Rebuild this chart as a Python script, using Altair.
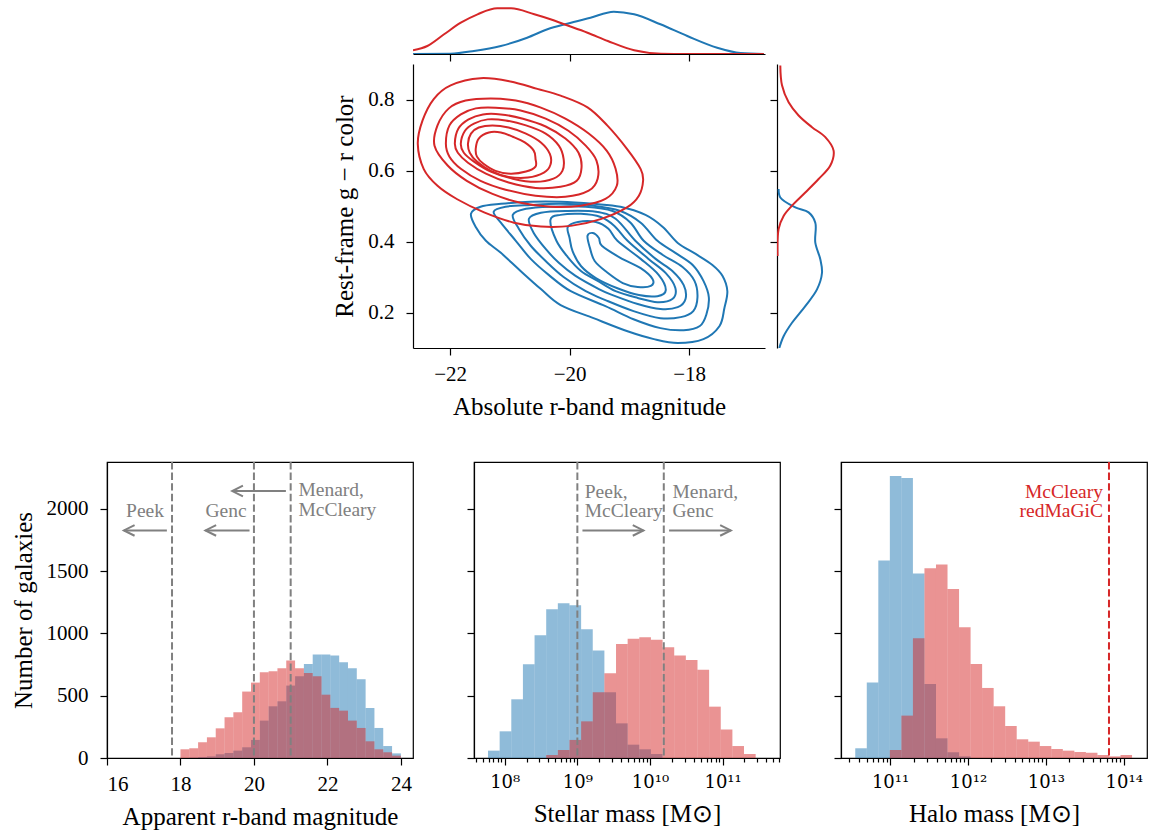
import altair as alt
import numpy as np
import pandas as pd

RED = "#d62728"
BLUE = "#1f77b4"
GRAY = "#808080"
FONT = "Liberation Serif"
SUPFONT = "DejaVu Serif"

# ---------------- joint plot: KDE contour lines ----------------
# (absolute r-band magnitude, rest-frame g-r colour), outermost level first
red_contours = [
    [(-22.54, 0.675), (-22.46, 0.741), (-22.27, 0.802), (-21.99, 0.840), (-21.49, 0.860), (-20.99, 0.851),
     (-20.54, 0.830), (-20.15, 0.811), (-19.70, 0.778), (-19.37, 0.727), (-19.04, 0.661), (-18.81, 0.604),
     (-18.77, 0.571), (-18.84, 0.529), (-19.04, 0.496), (-19.48, 0.463), (-19.98, 0.444), (-20.48, 0.442),
     (-20.93, 0.453), (-21.43, 0.482), (-21.88, 0.519), (-22.21, 0.557), (-22.44, 0.604)],
    [(-22.26, 0.670), (-22.21, 0.727), (-22.02, 0.775), (-21.74, 0.797), (-21.32, 0.803), (-20.90, 0.797),
     (-20.48, 0.777), (-20.07, 0.746), (-19.68, 0.704), (-19.38, 0.656), (-19.23, 0.605), (-19.21, 0.557),
     (-19.40, 0.520), (-19.81, 0.501), (-20.32, 0.498), (-20.82, 0.509), (-21.29, 0.534), (-21.72, 0.571),
     (-22.04, 0.614)],
    [(-22.07, 0.676), (-22.01, 0.727), (-21.82, 0.758), (-21.57, 0.775), (-21.24, 0.777), (-20.82, 0.769),
     (-20.40, 0.746), (-20.02, 0.712), (-19.73, 0.670), (-19.55, 0.628), (-19.53, 0.577), (-19.68, 0.543),
     (-20.07, 0.526), (-20.57, 0.529), (-21.07, 0.546), (-21.49, 0.571), (-21.82, 0.605), (-22.01, 0.639)],
    [(-21.92, 0.676), (-21.86, 0.718), (-21.69, 0.744), (-21.45, 0.758), (-21.15, 0.758), (-20.78, 0.746),
     (-20.40, 0.724), (-20.07, 0.690), (-19.85, 0.650), (-19.80, 0.608), (-19.88, 0.571), (-20.15, 0.554),
     (-20.57, 0.551), (-21.02, 0.566), (-21.40, 0.591), (-21.70, 0.622), (-21.87, 0.650)],
    [(-21.82, 0.676), (-21.75, 0.712), (-21.60, 0.732), (-21.37, 0.744), (-21.07, 0.741), (-20.73, 0.727),
     (-20.40, 0.704), (-20.18, 0.670), (-20.10, 0.633), (-20.12, 0.599), (-20.27, 0.577), (-20.57, 0.568),
     (-20.95, 0.577), (-21.32, 0.597), (-21.60, 0.625), (-21.77, 0.650)],
    [(-21.70, 0.676), (-21.65, 0.704), (-21.52, 0.721), (-21.29, 0.727), (-21.02, 0.721), (-20.73, 0.704),
     (-20.48, 0.679), (-20.33, 0.647), (-20.32, 0.616), (-20.43, 0.594), (-20.70, 0.580), (-21.02, 0.582),
     (-21.32, 0.599), (-21.55, 0.625), (-21.67, 0.650)],
    [(-21.57, 0.662), (-21.52, 0.690), (-21.35, 0.707), (-21.15, 0.707), (-20.95, 0.695), (-20.75, 0.679),
     (-20.60, 0.656), (-20.57, 0.633), (-20.57, 0.611), (-20.73, 0.597), (-20.99, 0.591), (-21.24, 0.599),
     (-21.44, 0.619), (-21.55, 0.639)],
]
blue_contours = [
    [(-21.65, 0.478), (-21.49, 0.498), (-21.15, 0.506), (-20.65, 0.512), (-20.15, 0.512), (-19.60, 0.506),
     (-19.15, 0.498), (-18.73, 0.475), (-18.44, 0.441), (-18.19, 0.396), (-17.89, 0.365), (-17.61, 0.334),
     (-17.44, 0.303), (-17.36, 0.260), (-17.41, 0.212), (-17.49, 0.162), (-17.76, 0.125), (-18.19, 0.114),
     (-18.59, 0.125), (-19.03, 0.147), (-19.60, 0.184), (-20.15, 0.221), (-20.48, 0.266), (-20.82, 0.317),
     (-21.15, 0.368), (-21.40, 0.402), (-21.57, 0.441)],
    [(-21.27, 0.484), (-21.07, 0.498), (-20.65, 0.503), (-20.15, 0.506), (-19.60, 0.501), (-19.15, 0.486),
     (-18.81, 0.453), (-18.53, 0.402), (-18.23, 0.368), (-17.94, 0.334), (-17.76, 0.289), (-17.67, 0.243),
     (-17.71, 0.195), (-17.82, 0.162), (-18.09, 0.150), (-18.48, 0.156), (-18.93, 0.181), (-19.40, 0.218),
     (-19.98, 0.260), (-20.35, 0.306), (-20.65, 0.351), (-20.90, 0.402), (-21.15, 0.453)],
    [(-20.95, 0.475), (-20.73, 0.492), (-20.32, 0.498), (-19.73, 0.498), (-19.28, 0.486), (-18.98, 0.453),
     (-18.76, 0.402), (-18.44, 0.362), (-18.11, 0.328), (-17.91, 0.289), (-17.86, 0.243), (-17.93, 0.204),
     (-18.14, 0.187), (-18.48, 0.184), (-18.93, 0.204), (-19.40, 0.235), (-19.73, 0.260), (-20.10, 0.300),
     (-20.40, 0.345), (-20.65, 0.388), (-20.85, 0.436)],
    [(-20.68, 0.464), (-20.48, 0.481), (-20.07, 0.486), (-19.56, 0.484), (-19.23, 0.464), (-18.90, 0.402),
     (-18.56, 0.351), (-18.28, 0.317), (-18.09, 0.277), (-18.06, 0.238), (-18.19, 0.215), (-18.48, 0.210),
     (-18.86, 0.224), (-19.28, 0.249), (-19.51, 0.266), (-19.90, 0.303), (-20.18, 0.340), (-20.40, 0.379),
     (-20.60, 0.424)],
    [(-20.32, 0.461), (-20.15, 0.475), (-19.81, 0.478), (-19.48, 0.469), (-19.25, 0.444), (-19.03, 0.402),
     (-18.68, 0.351), (-18.39, 0.311), (-18.23, 0.269), (-18.28, 0.238), (-18.53, 0.229), (-18.86, 0.241),
     (-19.23, 0.260), (-19.53, 0.289), (-19.81, 0.317), (-20.03, 0.356), (-20.22, 0.402)],
    [(-20.03, 0.441), (-19.86, 0.455), (-19.56, 0.455), (-19.35, 0.436), (-19.20, 0.402), (-18.81, 0.351),
     (-18.51, 0.306), (-18.39, 0.263), (-18.53, 0.246), (-18.84, 0.249), (-19.21, 0.269), (-19.56, 0.297),
     (-19.81, 0.331), (-19.95, 0.373), (-20.00, 0.410)],
    [(-19.70, 0.416), (-19.61, 0.424), (-19.51, 0.410), (-19.46, 0.388), (-19.15, 0.354), (-18.81, 0.325),
     (-18.61, 0.294), (-18.64, 0.275), (-18.86, 0.272), (-19.11, 0.283), (-19.38, 0.314), (-19.58, 0.345),
     (-19.66, 0.382)],
]

# marginal densities (arbitrary units)
top_red_mag = [-22.62, -22.38, -22.10, -21.82, -21.54, -21.21, -20.98, -20.59, -20.32, -20.09, -19.70,
               -19.36, -18.92, -18.47, -18.03, -17.40, -16.75]
top_red_den = [0.037, 0.080, 0.197, 0.313, 0.397, 0.457, 0.457, 0.397, 0.347, 0.297, 0.213,
               0.130, 0.037, 0.003, 0.0, 0.0, 0.0]
top_blue_mag = [-22.62, -21.99, -21.60, -21.15, -20.71, -20.37, -20.04, -19.65, -19.26, -18.92, -18.48,
                -18.03, -17.53, -17.14, -16.75]
top_blue_den = [0.0, 0.003, 0.030, 0.080, 0.163, 0.247, 0.303, 0.363, 0.423, 0.397, 0.297,
                0.180, 0.063, 0.010, 0.0]
right_red_gr = [0.896, 0.840, 0.792, 0.755, 0.722, 0.694, 0.656, 0.614, 0.576, 0.538, 0.501, 0.472, 0.435, 0.359]
right_red_den = [0.033, 0.050, 0.116, 0.216, 0.350, 0.483, 0.566, 0.533, 0.416, 0.283, 0.150, 0.066, 0.016, 0.006]
right_blue_gr = [0.548, 0.524, 0.496, 0.482, 0.453, 0.397, 0.350, 0.312, 0.265, 0.218, 0.171, 0.133, 0.100]
right_blue_den = [0.016, 0.033, 0.183, 0.316, 0.383, 0.383, 0.433, 0.450, 0.400, 0.283, 0.150, 0.066, 0.023]

# ---------------- histograms ----------------
mag_range, mag_nbins = (18.0, 24.0), 25
mag_blue = [0, 3, 8, 13, 30, 40, 59, 86, 145, 300, 415, 455, 581, 656, 755, 830, 830, 822, 769, 720, 632,
            401, 241, 96, 37]
mag_red = [70, 78, 126, 166, 238, 327, 367, 533, 605, 688, 696, 720, 782, 720, 683, 656, 508, 402, 380, 300,
           241, 134, 70, 46, 19]
sm_logrange, sm_nbins = (7.770, 11.455), 23
sm_blue = [59, 214, 471, 752, 985, 1194, 1242, 1226, 1033, 862, 527, 278, 107, 70, 32,
           0, 0, 0, 0, 0, 0, 0, 0]
sm_red = [0, 0, 0, 0, 0, 24, 64, 145, 294, 527, 680, 915, 956, 969, 948, 889, 822, 787, 709, 412, 228, 96, 32]
hm_logrange, hm_nbins = (10.553, 14.106), 24
hm_blue = [78, 605, 1585, 2262, 2246, 1480, 594, 158, 46, 13,
           0, 0, 0, 0, 0, 0, 0, 0, 0, 0, 0, 0, 0, 0]
hm_red = [0, 0, 0, 64, 340, 961, 1523, 1553, 1355, 1049, 755, 562, 415, 257, 150, 131, 96, 72, 59, 48,
          43, 24, 13, 24]

mag_cuts = [17.77, 20.0, 21.0]
sm_cuts_log = [9.0, 10.19]
hm_cuts_log = [13.81]

# annotations
mag_notes_center = [("Peek", 17.035, 1933), ("Genc", 19.24, 1933)]
mag_notes_left = [("Menard,\nMcCleary", 21.21, 2099)]
mag_arrows = [(17.63, 16.46, 1826), (19.88, 18.68, 1826), (20.87, 19.41, 2142)]  # from, to, count
sm_notes_left = [("Peek,\nMcCleary", 9.102, 2088), ("Menard,\nGenc", 10.31, 2088)]
sm_arrows = [(9.07, 9.91, 1826), (10.263, 11.113, 1826)]
hm_notes_right = [("McCleary\nredMaGiC", 13.733, 2088)]

# ============================ build ============================
U = alt.Undefined
x_main = alt.Scale(domain=[-22.62, -16.73], nice=False, zero=False)
y_main = alt.Scale(domain=[0.1, 0.9], nice=False, zero=False)
MINUS = "replace(datum.label, '-', '\u2212')"


def contour_df(contours, name):
    rows = []
    for ci, pts in enumerate(contours):
        for pi, (m, c) in enumerate(pts):
            rows.append({"cid": f"{name}{ci}", "idx": pi, "mag": m, "gr": c})
    return pd.DataFrame(rows)


def contour_layer(df, color, axes):
    return alt.Chart(df).mark_line(
        interpolate="cardinal-closed", strokeWidth=2, color=color, clip=True
    ).encode(
        x=alt.X("mag:Q", scale=x_main,
                axis=alt.Axis(values=[-22, -20, -18], format="d", title="Absolute r-band magnitude",
                              labelExpr=MINUS) if axes else U),
        y=alt.Y("gr:Q", scale=y_main,
                axis=alt.Axis(values=[0.2, 0.4, 0.6, 0.8], format=".1f", title="Rest-frame g \u2212 r color",
                              labelPadding=12) if axes else U),
        detail="cid:N",
        order="idx:Q",
    )


main = alt.layer(
    contour_layer(contour_df(blue_contours, "b"), BLUE, True),
    contour_layer(contour_df(red_contours, "r"), RED, False),
).properties(width=352, height=284)


def top_layer(mags, dens, color, axis):
    df = pd.DataFrame({"mag": mags, "den": dens})
    return alt.Chart(df).mark_line(interpolate="monotone", strokeWidth=2, color=color, clip=True).encode(
        x=alt.X("mag:Q", scale=x_main,
                axis=alt.Axis(values=[-22, -20, -18], labels=False, title=None) if axis else U),
        y=alt.Y("den:Q", scale=alt.Scale(domain=[0, 0.48], nice=False), axis=None),
    )


top_marg = alt.layer(
    top_layer(top_blue_mag, top_blue_den, BLUE, True),
    top_layer(top_red_mag, top_red_den, RED, False),
).properties(width=352, height=48)


def right_layer(grs, dens, color, axis):
    df = pd.DataFrame({"gr": grs, "den": dens})
    return alt.Chart(df).mark_line(interpolate="catmull-rom", strokeWidth=2, color=color, clip=True).encode(
        x=alt.X("den:Q", scale=alt.Scale(domain=[0, 0.60], nice=False), axis=None),
        y=alt.Y("gr:Q", scale=y_main,
                axis=alt.Axis(values=[0.2, 0.4, 0.6, 0.8], labels=False, title=None) if axis else U),
        order="gr:Q",
    )


right_marg = alt.layer(
    right_layer(right_blue_gr, right_blue_den, BLUE, True),
    right_layer(right_red_gr, right_red_den, RED, False),
).properties(width=60, height=284)


def spacer(w, h):
    return alt.Chart(pd.DataFrame({"v": [0]})).mark_point(opacity=0).properties(width=w, height=h)


joint_left = alt.vconcat(top_marg, main, spacing=10, bounds="flush")
joint_right = alt.vconcat(spacer(60, 48), right_marg, spacing=10, bounds="flush")
joint = alt.hconcat(joint_left, joint_right, spacing=2)
row1 = alt.hconcat(spacer(225, 10), joint, spacing=0)

# ---------------- bottom panels ----------------
Y_SCALE = alt.Scale(domain=[0, 2375], nice=False)
Y_VALUES = [0, 500, 1000, 1500, 2000]
SUP = str.maketrans("0123456789", "\u2070\u00b9\u00b2\u00b3\u2074\u2075\u2076\u2077\u2078\u2079")
LEFT_HEAD = "M 2 -1 L 0 0 L 2 1"
RIGHT_HEAD = "M -2 -1 L 0 0 L -2 1"


def pow_label_expr(exps):
    expr = "''"
    for e in reversed(exps):
        expr = f"datum.value == {10 ** e} ? '10{str(e).translate(SUP)}' : ({expr})"
    return expr


def minor_values(lo_exp, hi_exp, dom):
    return [k * 10 ** n for n in range(lo_exp, hi_exp + 1) for k in range(2, 10)
            if dom[0] <= k * 10 ** n <= dom[1]]


def panel(edges, blue, red, xscale, major_axis, minor_axis, cuts, cut_color,
          notes, arrows, ylabels):
    indep = minor_axis is not None
    xa_extra = None if indep else U          # extra layers: no own x axis
    yaxis = alt.Axis(values=Y_VALUES, format="d", labels=ylabels,
                     title="Number of galaxies" if ylabels else None, labelPadding=12)
    layers = []
    for counts, color, first in [(blue, BLUE, True), (red, RED, False)]:
        df = pd.DataFrame({"lo": edges[:-1], "hi": edges[1:], "n": counts, "zero": 0})
        layers.append(alt.Chart(df).mark_rect(color=color, opacity=0.5).encode(
            x=alt.X("lo:Q", scale=xscale, axis=major_axis if first else xa_extra),
            x2="hi:Q",
            y=alt.Y("n:Q", scale=Y_SCALE, axis=yaxis if first else U),
            y2="zero:Q",
        ))
    layers.append(alt.Chart(pd.DataFrame({"cut": cuts})).mark_rule(
        color=cut_color, strokeWidth=2, strokeDash=[7.4, 3.2]
    ).encode(x=alt.X("cut:Q", scale=xscale, axis=minor_axis if indep else U)))
    for items, align, color in notes:
        df = pd.DataFrame({"t": [i[0] for i in items], "x": [i[1] for i in items], "y": [i[2] for i in items]})
        layers.append(alt.Chart(df).mark_text(
            font=FONT, fontSize=19.5, color=color, align=align, baseline="alphabetic",
            lineBreak="\n", lineHeight=19.5
        ).encode(
            x=alt.X("x:Q", scale=xscale, axis=xa_extra),
            y=alt.Y("y:Q", scale=Y_SCALE),
            text="t:N",
        ))
    if arrows:
        adf = pd.DataFrame({"x0": [a[0] for a in arrows], "x1": [a[1] for a in arrows],
                            "y": [a[2] for a in arrows]})
        head = LEFT_HEAD if arrows[0][1] < arrows[0][0] else RIGHT_HEAD
        layers.append(alt.Chart(adf).mark_rule(color=GRAY, strokeWidth=2).encode(
            x=alt.X("x0:Q", scale=xscale, axis=xa_extra), x2="x1:Q",
            y=alt.Y("y:Q", scale=Y_SCALE),
        ))
        layers.append(alt.Chart(adf).mark_point(
            shape=head, size=114, filled=False, color=GRAY, strokeWidth=2, opacity=1
        ).encode(
            x=alt.X("x1:Q", scale=xscale, axis=xa_extra),
            y=alt.Y("y:Q", scale=Y_SCALE),
        ))
    ch = alt.layer(*layers).properties(
        width=306, height=296, view=alt.ViewBackground(stroke="black", strokeWidth=1.2)
    )
    if indep:
        ch = ch.resolve_axis(x="independent")
    return ch


# panel 1: apparent magnitude
mag_edges = np.linspace(mag_range[0], mag_range[1], mag_nbins + 1)
p1 = panel(
    mag_edges, mag_blue, mag_red,
    alt.Scale(domain=[16, 24.33], nice=False, zero=False),
    alt.Axis(values=[16, 18, 20, 22, 24], format="d", title="Apparent r-band magnitude", domain=False),
    None, mag_cuts, GRAY,
    [(mag_notes_center, "center", GRAY), (mag_notes_left, "left", GRAY)],
    mag_arrows, True,
)

# panel 2: stellar mass
sm_edges = 10 ** np.linspace(sm_logrange[0], sm_logrange[1], sm_nbins + 1)
sm_dom = [10 ** 7.577, 10 ** 11.79]
sm_scale = alt.Scale(type="log", domain=sm_dom, nice=False)
p2 = panel(
    sm_edges, sm_blue, sm_red, sm_scale,
    alt.Axis(values=[10 ** e for e in [8, 9, 10, 11]], labelExpr=pow_label_expr([8, 9, 10, 11]),
             labelFont=SUPFONT, labelFontSize=18,
             title="Stellar mass [M\u2299]", domain=False, orient="bottom"),
    alt.Axis(values=minor_values(7, 11, sm_dom), labels=False, tickSize=4, domain=False, title=None,
             orient="bottom"),
    [10 ** v for v in sm_cuts_log], GRAY,
    [([(t, 10 ** x, y) for t, x, y in sm_notes_left], "left", GRAY)],
    [(10 ** a, 10 ** b, y) for a, b, y in sm_arrows], False,
)

# panel 3: halo mass
hm_edges = 10 ** np.linspace(hm_logrange[0], hm_logrange[1], hm_nbins + 1)
hm_dom = [10 ** 10.37, 10 ** 14.298]
hm_scale = alt.Scale(type="log", domain=hm_dom, nice=False)
p3 = panel(
    hm_edges, hm_blue, hm_red, hm_scale,
    alt.Axis(values=[10 ** e for e in [11, 12, 13, 14]], labelExpr=pow_label_expr([11, 12, 13, 14]),
             labelFont=SUPFONT, labelFontSize=18,
             title="Halo mass [M\u2299]", domain=False, orient="bottom"),
    alt.Axis(values=minor_values(10, 14, hm_dom), labels=False, tickSize=4, domain=False, title=None,
             orient="bottom"),
    [10 ** v for v in hm_cuts_log], RED,
    [([(t, 10 ** x, y) for t, x, y in hm_notes_right], "right", RED)],
    [], False,
)

row2 = alt.hconcat(p1, p2, p3, spacing=61, bounds="flush")

chart = alt.vconcat(row1, row2, spacing=40).properties(
    padding={"left": 10, "top": 5, "right": 5, "bottom": 5}
).configure_view(
    stroke="transparent"
).configure_axis(
    labelFont=FONT, titleFont=FONT, labelFontSize=21, titleFontSize=25, titleFontWeight="normal",
    labelColor="black", titleColor="black", domainColor="black", tickColor="black",
    domainWidth=1.2, tickWidth=1.2, tickSize=7, grid=False, labelPadding=8, titlePadding=10, zindex=1,
)

chart.save("out.html", embed_options={"renderer": "svg", "actions": False})
